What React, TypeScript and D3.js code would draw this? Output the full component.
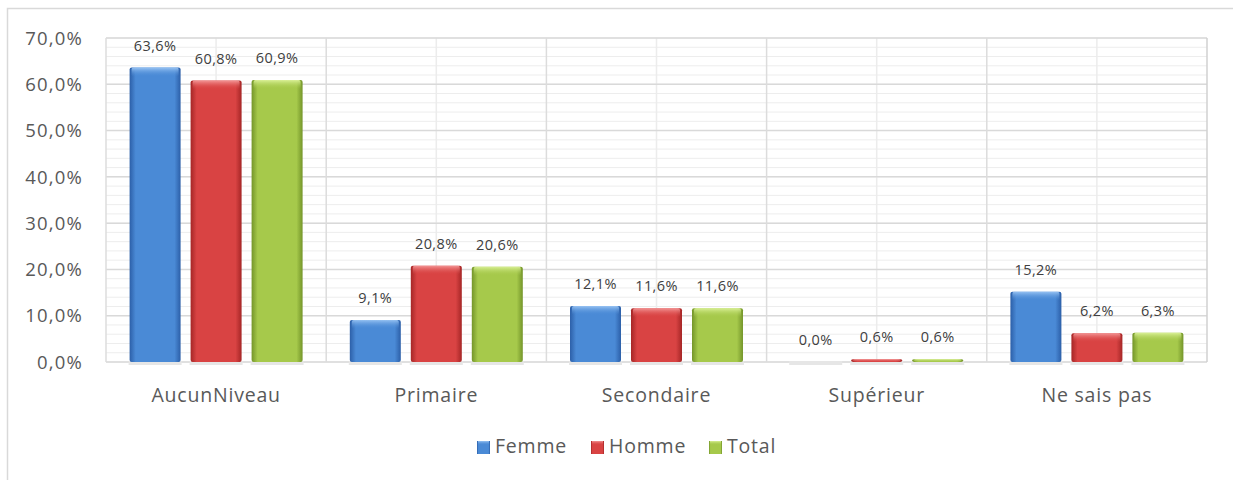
import React from "react";
import * as d3 from "d3";

const categories = ["AucunNiveau", "Primaire", "Secondaire", "Supérieur", "Ne sais pas"];
const seriesNames = ["Femme", "Homme", "Total"];
const femme = [63.6, 9.1, 12.1, 0.0, 15.2];
const homme = [60.8, 20.8, 11.6, 0.6, 6.2];
const total = [60.9, 20.6, 11.6, 0.6, 6.3];
const yTicks = [0, 10, 20, 30, 40, 50, 60, 70];

const seriesValues = [femme, homme, total];
const palette = [
  { edge: "#2c5fa8", mid: "#4a8ad6", top: "#9cc6f4" },
  { edge: "#a52626", mid: "#d94343", top: "#f49a9a" },
  { edge: "#74952a", mid: "#a6c94b", top: "#dcf29a" },
];

const W = 1233, H = 480;
const L = 106, R = 1207, T = 38, B = 362;
const FONT = "'Open Sans', Lato, sans-serif";

export default function App() {
  const x = d3.scaleBand<string>().domain(categories).range([L, R]).padding(0);
  const xi = d3.scaleBand<string>().domain(seriesNames).range([0, x.bandwidth()]).paddingInner(0.164).paddingOuter(0.387);
  const y = d3.scaleLinear().domain([0, 70]).range([B, T]);
  const minor = d3.range(0, 70.001, 2);
  const fmt = (v: number) => v.toFixed(1).replace(".", ",") + "%";

  return (
    <svg width={W} height={H} style={{ position: "absolute", left: 0, top: 0 }} fontFamily={FONT}>
      <defs>
        {palette.map((p, i) => (
          <React.Fragment key={i}>
            <linearGradient id={`body${i}`} x1="0" x2="1" y1="0" y2="0">
              <stop offset="0" stopColor={p.edge} />
              <stop offset="0.12" stopColor={p.mid} />
              <stop offset="0.5" stopColor={p.mid} />
              <stop offset="0.88" stopColor={p.mid} />
              <stop offset="1" stopColor={p.edge} />
            </linearGradient>
            <linearGradient id={`top${i}`} x1="0" x2="0" y1="0" y2="1">
              <stop offset="0" stopColor={p.top} stopOpacity={0.95} />
              <stop offset="1" stopColor={p.mid} stopOpacity={0} />
            </linearGradient>
          </React.Fragment>
        ))}
      </defs>
      <rect x={0} y={0} width={W} height={H} fill="#fff" />
      <rect x={7.5} y={8.5} width={1240} height={500} fill="none" stroke="#d9d9d9" strokeWidth={1.5} />

      {minor.map((v) => (
        <line key={"m" + v} x1={L} x2={R} y1={y(v)} y2={y(v)} stroke="#ededed" strokeWidth={1} />
      ))}
      {categories.map((c) => (
        <line key={"vc" + c} x1={x(c)! + x.bandwidth() / 2} x2={x(c)! + x.bandwidth() / 2} y1={T} y2={B} stroke="#ececec" strokeWidth={1.5} />
      ))}
      {yTicks.map((v) => (
        <line key={"M" + v} x1={L} x2={R} y1={y(v)} y2={y(v)} stroke="#d9d9d9" strokeWidth={1.5} />
      ))}
      {categories.map((c) => (
        <line key={"vb" + c} x1={x(c)!} x2={x(c)!} y1={T} y2={B} stroke="#dcdcdc" strokeWidth={1.5} />
      ))}
      <line x1={R} x2={R} y1={T} y2={B} stroke="#d0d0d0" strokeWidth={1.5} />

      {yTicks.map((v) => (
        <text key={"t" + v} x={83} y={y(v)} dy="0.36em" textAnchor="end" fontSize={18.5} letterSpacing={1.2} fill="#595959">
          {fmt(v)}
        </text>
      ))}

      {categories.map((c, ci) =>
        seriesNames.map((s, si) => {
          const v = seriesValues[si][ci];
          const bx = x(c)! + xi(s)!;
          const bw = xi.bandwidth();
          const by = y(v);
          const bh = B - by;
          const topH = Math.min(9, bh);
          return (
            <g key={c + s}>
              <rect x={bx - 1} y={B - 1} width={bw + 2} height={4} fill="#e6e6e6" />
              {bh > 0.5 ? (
                <>
                  <rect x={bx} y={by} width={bw} height={bh} rx={2} fill={`url(#body${si})`} />
                  <rect x={bx + 2} y={by} width={bw - 4} height={topH} rx={2} fill={`url(#top${si})`} />
                </>
              ) : null}
              <text x={bx + bw / 2} y={by - 17} textAnchor="middle" fontSize={14.5} letterSpacing={0.4} fill="#404040">
                {fmt(v)}
              </text>
            </g>
          );
        })
      )}

      {categories.map((c) => (
        <text key={"c" + c} x={x(c)! + x.bandwidth() / 2} y={402} textAnchor="middle" fontSize={19.5} letterSpacing={0.8} fill="#595959">
          {c}
        </text>
      ))}

      {seriesNames.map((s, i) => {
        const lx = [477, 591, 709][i];
        return (
          <g key={"l" + s}>
            <rect x={lx} y={441} width={13} height={13} fill={`url(#body${i})`} />
            <rect x={lx + 1} y={441} width={11} height={4} fill={`url(#top${i})`} />
            <text x={lx + 18} y={453} fontSize={19.5} letterSpacing={0.8} fill="#595959">
              {s}
            </text>
          </g>
        );
      })}
    </svg>
  );
}
